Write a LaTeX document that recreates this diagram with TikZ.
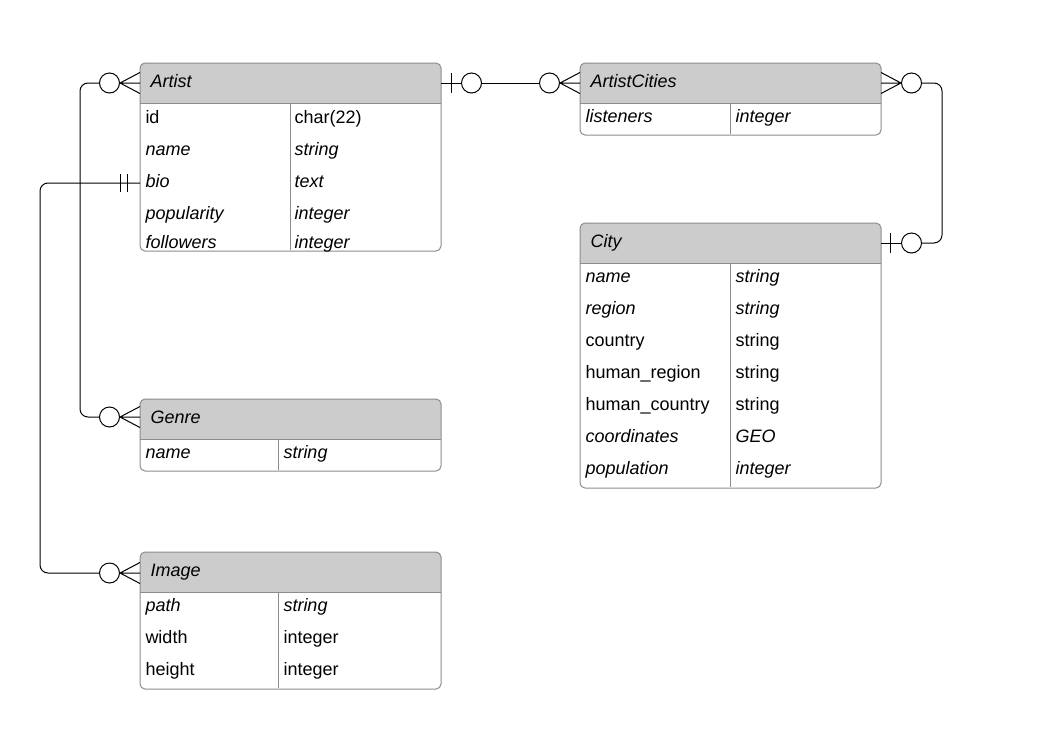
\documentclass[tikz,border=0pt]{standalone}
\usepackage{fontspec}
\setmainfont{Liberation Sans}
\usetikzlibrary{calc, positioning}
\definecolor{headgray}{HTML}{CCCCCC}
\definecolor{edgegray}{HTML}{8C8C8C}

\begin{document}
\begin{tikzpicture}
		[x=0.75pt, y=-0.75pt, line width=0.75pt,
		 font=\fontsize{13.5}{16}\selectfont,
		 entity/.style={inner sep=0pt, anchor=north west, minimum width=225pt},
		 title/.style={anchor=base west, inner sep=0pt, font=\fontsize{13.5}{16}\selectfont\itshape},
		 field/.style={anchor=base west, inner sep=0pt},
		 ring/.style={circle, draw=black, fill=white, inner sep=0pt, minimum size=15pt},
		 conn/.style={draw=black, line width=0.75pt}]
		\useasboundingbox (0,0) rectangle (1044,728);

		% tables %
		\node[entity, minimum height=140.25pt] (artist) at (140,63) {};
		\node[entity, minimum height=53.25pt] (cities) at (580,63) {};
		\node[entity, minimum height=198pt] (city) at (580,223) {};
		\node[entity, minimum height=53.25pt] (genre) at (140,399) {};
		\node[entity, minimum height=102pt] (image) at (140,552) {};

		\foreach \t/\c/\h/\b in {artist/290/103/250, cities/730/103/134, city/730/263/487, genre/278/439/470, image/278/592/688} {
			\begin{scope}
				\clip[rounded corners=3.75pt] (\t.north west) rectangle (\t.south east);
				\fill[headgray] (\t.north west) rectangle ($(\t.north east)+(0,40)$);
			\end{scope}
			\draw[edgegray] ($(\t.north west)+(0,40)$) -- ($(\t.north east)+(0,40)$);
			\draw[edgegray] (\c,\h) -- (\c,\b);
			\draw[edgegray, rounded corners=3.75pt] (\t.north west) rectangle (\t.south east);
		}

		% titles %
		\node[title] (artistT) at (150,87) {Artist};
		\node[title] (citiesT) at (590,87) {ArtistCities};
		\node[title] (cityT) at (590,247) {City};
		\node[title] (genreT) at (150,423) {Genre};
		\node[title] (imageT) at (150,576) {Image};

		% fields %
		\foreach \y/\a/\b/\f [count=\i] in {123/id/char(22)/\upshape, 155/name/string/\itshape, 187/bio/text/\itshape, 219/popularity/integer/\itshape, 248/followers/integer/\itshape} {
			\node[field] (artist-f\i) at (145,\y) {\f\a};
			\node[field] (artist-t\i) at (294,\y) {\f\b};
		}
		\node[field] (cities-f1) at (585,122) {\itshape listeners};
		\node[field] (cities-t1) at (735,122) {\itshape integer};
		\foreach \y/\a/\b/\f [count=\i] in {282/name/string/\itshape, 314/region/string/\itshape, 346/country/string/\upshape, 378/human\_region/string/\upshape, 410/human\_country/string/\upshape, 442/coordinates/GEO/\itshape, 474/population/integer/\itshape} {
			\node[field] (city-f\i) at (585,\y) {\f\a};
			\node[field] (city-t\i) at (735,\y) {\f\b};
		}
		\node[field] (genre-f1) at (145,458) {\itshape name};
		\node[field] (genre-t1) at (283,458) {\itshape string};
		\foreach \y/\a/\b/\f [count=\i] in {611/path/string/\itshape, 643/width/integer/\upshape, 675/height/integer/\upshape} {
			\node[field] (image-f\i) at (145,\y) {\f\a};
			\node[field] (image-t\i) at (283,\y) {\f\b};
		}

		% attachment points %
		\coordinate (artistL) at ($(artist.north west)+(0,20)$);
		\coordinate (artistR) at ($(artist.north east)+(0,20)$);
		\coordinate (bioL) at ($(artist.north west)+(0,120)$);
		\coordinate (citiesL) at ($(cities.north west)+(0,20)$);
		\coordinate (citiesR) at ($(cities.north east)+(0,20)$);
		\coordinate (cityR) at ($(city.north east)+(0,20)$);
		\coordinate (genreL) at ($(genre.north west)+(0,18)$);
		\coordinate (imageL) at ($(image.north west)+(0,21)$);

		% rings %
		\node[ring, left=15pt of artistL] (oArtist) {};
		\node[ring, left=15pt of genreL] (oGenre) {};
		\node[ring, left=15pt of imageL] (oImage) {};
		\node[ring, right=15pt of artistR] (oArtistR) {};
		\node[ring, left=15pt of citiesL] (oCitiesL) {};
		\node[ring, right=15pt of citiesR] (oCitiesR) {};
		\node[ring, right=15pt of cityR] (oCity) {};

		% edges %
		\draw[conn, rounded corners=6pt] (oArtist.west) -- ++(-19,0) |- (oGenre.west);
		\draw[conn, rounded corners=6pt] (bioL) -- ++(-100,0) |- (oImage.west);
		\draw[conn] (artistR) -- (oArtistR.west);
		\draw[conn] (oArtistR.east) -- (oCitiesL.west);
		\draw[conn, rounded corners=6pt] (oCitiesR.east) -| ($(oCity.east)+(20,0)$) -- (oCity.east);
		\draw[conn] (cityR) -- (oCity.west);

		% bars %
		\draw[conn] ($(artistR)+(10,-10)$) -- ($(artistR)+(10,10)$);
		\draw[conn] ($(cityR)+(9,-10)$) -- ($(cityR)+(9,10)$);
		\draw[conn] ($(bioL)+(-20,-9)$) -- ($(bioL)+(-20,9)$) ($(bioL)+(-13,-9)$) -- ($(bioL)+(-13,9)$);

		% crow's feet %
		\foreach \o/\s/\p in {oArtist/east/artistL, oGenre/east/genreL, oImage/east/imageL, oCitiesL/east/citiesL, oCitiesR/west/citiesR}
			\draw[conn] (\o.\s) -- ($(\p)+(0,-10.5)$) (\o.\s) -- (\p) (\o.\s) -- ($(\p)+(0,10.5)$);
\end{tikzpicture}
\end{document}
